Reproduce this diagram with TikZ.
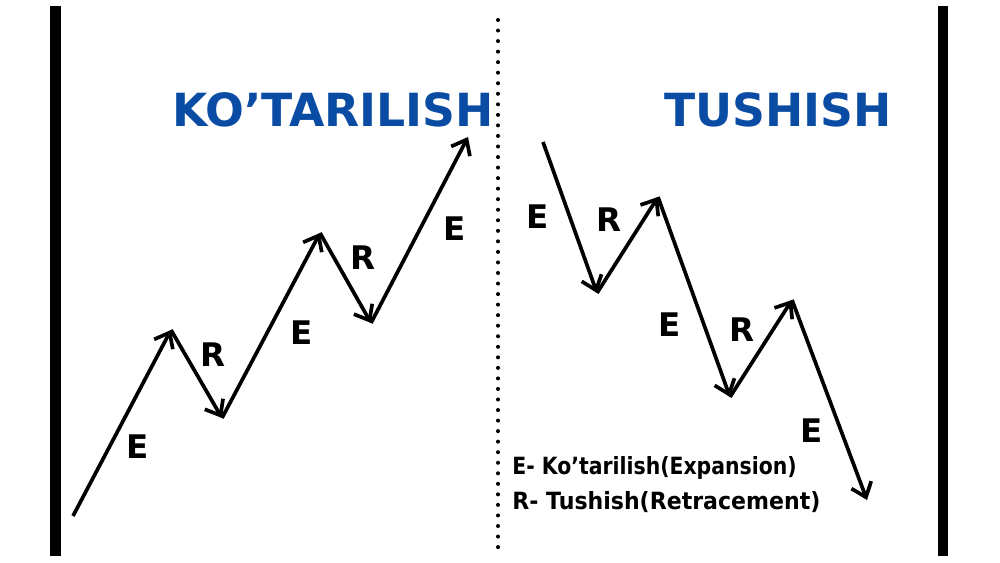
\documentclass[tikz,border=0pt]{standalone}
\usepackage{fontspec}
\setmainfont{DejaVu Sans}
\usepackage{xcolor}
\usetikzlibrary{arrows.meta}

\definecolor{titleblue}{RGB}{10,76,164}

\begin{document}
\begin{tikzpicture}[x=0.02cm, y=-0.02cm,
    >={Straight Barb[length=7.5pt, width=12pt, line width=2.1pt]},
    wave/.style={->, line width=2.1pt},
    lbl/.style={anchor=base, inner sep=0pt, font=\fontsize{18.5}{18.5}\selectfont\bfseries},
    title/.style={anchor=base, inner sep=0pt, text=titleblue, font=\fontsize{26}{26}\selectfont\bfseries},
    legend/.style={anchor=base west, inner sep=0pt, font=\fontsize{13.5}{13.5}\selectfont\bfseries}]

  \useasboundingbox (0,0) rectangle (1000,563);

  % frame and divider
  \fill (50,6) rectangle (61,556);
  \fill (938,6) rectangle (948,556);
  \coordinate (divtop) at (498,20);
  \coordinate (divbot) at (498,548);
  \draw[line width=2.3pt, line cap=round, dash pattern=on 0pt off 6pt] (divtop) -- (divbot);

  % titles
  \node[title] (up) at (333,127) {KO’TARILISH};
  \node[title] (down) at (778,127) {TUSHISH};

  % uptrend
  \coordinate (u0) at (73,516);
  \coordinate (u1) at (171,330);
  \coordinate (u2) at (222,418);
  \coordinate (u3) at (320,233);
  \coordinate (u4) at (371,323);
  \coordinate (u5) at (468,137);
  \draw[wave] (u0) -- (u1);
  \draw[wave] (u1) -- (u2);
  \draw[wave] (u2) -- (u3);
  \draw[wave] (u3) -- (u4);
  \draw[wave] (u4) -- (u5);

  \node[lbl] (ue1) at (138,459) {E};
  \node[lbl] (ur1) at (213,367) {R};
  \node[lbl] (ue2) at (302,345) {E};
  \node[lbl] (ur2) at (363,270) {R};
  \node[lbl] (ue3) at (455,241) {E};

  % downtrend
  \coordinate (d0) at (543,142);
  \coordinate (d1) at (597,293);
  \coordinate (d2) at (658,197);
  \coordinate (d3) at (730,397);
  \coordinate (d4) at (792,300);
  \coordinate (d5) at (867,500);
  \draw[wave] (d0) -- (d1);
  \draw[wave] (d1) -- (d2);
  \draw[wave] (d2) -- (d3);
  \draw[wave] (d3) -- (d4);
  \draw[wave] (d4) -- (d5);

  \node[lbl] (de1) at (538,229) {E};
  \node[lbl] (dr1) at (609,232) {R};
  \node[lbl] (de2) at (670,337) {E};
  \node[lbl] (dr2) at (742,342) {R};
  \node[lbl] (de3) at (812,442) {E};

  % legend
  \node[legend] (leg1) at (512,474) {\scalebox{0.86}[1]{E- Ko’tarilish(Expansion)}};
  \node[legend] (leg2) at (512,509) {\scalebox{0.93}[1]{R- Tushish(Retracement)}};

\end{tikzpicture}
\end{document}
